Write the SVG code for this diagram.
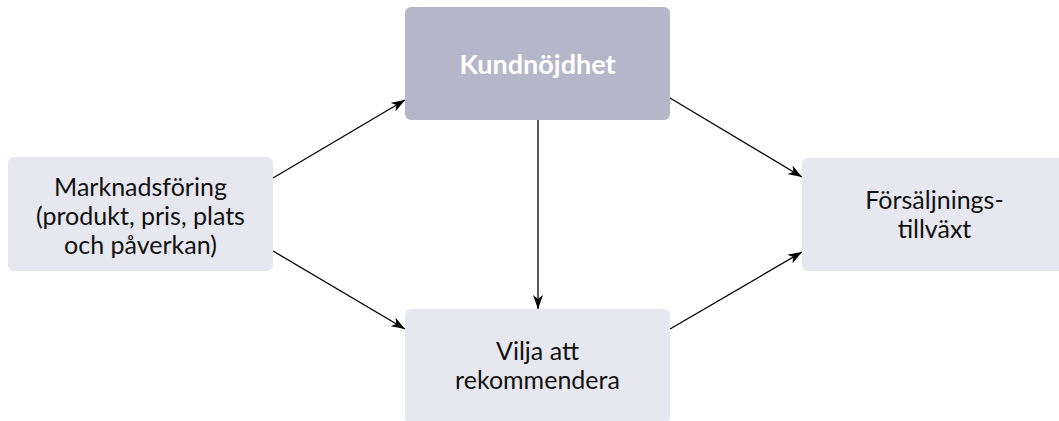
<svg xmlns="http://www.w3.org/2000/svg" width="1059" height="421" viewBox="0 0 1059 421">
<style>
.box{fill:#e7e7ef}
.dark{fill:#b5b6c9}
.t{font-family:Lato,"Open Sans","DejaVu Sans",sans-serif;font-size:25px;fill:#111111;text-anchor:middle}
.tb{font-family:Lato,"Open Sans","DejaVu Sans",sans-serif;font-size:27px;font-weight:bold;fill:#ffffff;text-anchor:middle}
.c{stroke:#000;stroke-width:1.3;fill:none;marker-end:url(#ah)}
</style>
<defs>
<marker id="ah" viewBox="0 0 14 10" refX="14" refY="5" markerWidth="14" markerHeight="10" markerUnits="userSpaceOnUse" orient="auto">
<path d="M0,0 L14,5 L0,10 L4,5 Z" fill="#000"/>
</marker>
</defs>
<rect width="1059" height="421" fill="#fff"/>
<g id="connectors">
<line class="c" x1="273" y1="178" x2="405" y2="100"/>
<line class="c" x1="273" y1="251" x2="405" y2="329"/>
<line class="c" x1="538" y1="120" x2="538" y2="309"/>
<line class="c" x1="670" y1="98" x2="802" y2="177"/>
<line class="c" x1="670" y1="329" x2="802" y2="252"/>
</g>
<g id="marknadsforing">
<rect class="box" x="8" y="157" width="265" height="114" rx="6"/>
<text class="t" x="140.5" y="196">Marknadsföring</text>
<text class="t" x="140.5" y="225">(produkt, pris, plats</text>
<text class="t" x="140.5" y="254">och påverkan)</text>
</g>
<g id="kundnojdhet">
<rect class="dark" x="405" y="7" width="265" height="113" rx="6"/>
<text class="tb" x="537.5" y="74">Kundnöjdhet</text>
</g>
<g id="vilja">
<rect class="box" x="405" y="309" width="265" height="114" rx="6"/>
<text class="t" x="537.5" y="360">Vilja att</text>
<text class="t" x="537.5" y="389">rekommendera</text>
</g>
<g id="forsaljning">
<rect class="box" x="802" y="158" width="265" height="113" rx="6"/>
<text class="t" x="934.5" y="209">Försäljnings-</text>
<text class="t" x="934.5" y="238">tillväxt</text>
</g>
</svg>
